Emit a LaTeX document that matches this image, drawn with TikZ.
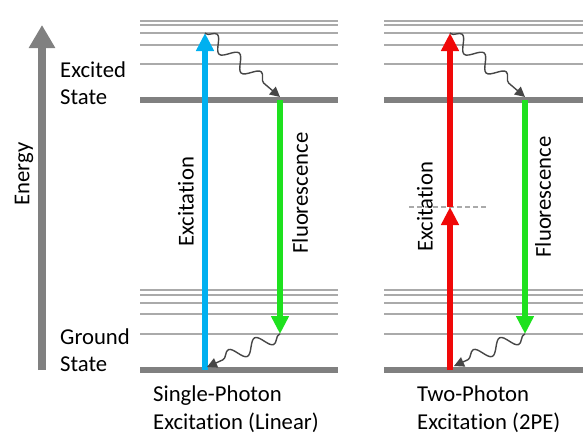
\documentclass[tikz,border=0pt]{standalone}
\usepackage{fontspec}
\setmainfont{Carlito}[Ligatures=NoCommon]
\usetikzlibrary{arrows.meta,calc,decorations.pathmorphing}
\definecolor{exblue}{RGB}{0,176,240}
\definecolor{flgreen}{RGB}{30,225,30}
\definecolor{exred}{RGB}{240,8,8}
\definecolor{lvgray}{RGB}{128,128,128}
\definecolor{thingray}{RGB}{170,170,170}
\definecolor{wavegray}{RGB}{70,70,70}
\begin{document}
\begin{tikzpicture}[x=1pt,y=-1pt,>=Triangle,font=\fontsize{22.7}{27.5}\selectfont]
\tikzstyle{thin}=[thingray,line width=1.6pt]
\tikzstyle{level}=[lvgray,line width=5.5pt]
\tikzstyle{photon}=[line width=6pt,-{Triangle[length=18pt,width=17pt]}]
\tikzstyle{relax}=[wavegray,line width=1.4pt,-{Triangle[length=10pt,width=10pt]},decorate,decoration={snake,amplitude=7pt,segment length=29pt,pre length=1pt,post length=10pt}]
\tikzstyle{lbl}=[inner sep=0pt]
\useasboundingbox (0,0) rectangle (588,447);
% energy axis
\coordinate (ebot) at (42,370);
\coordinate (etop) at (42,25);
\draw[lvgray,line width=8pt,-{Triangle[length=23pt,width=25pt]}] (ebot) -- (etop);
\node[lbl,rotate=90] (energy) at (24,174) {Energy};
\node[lbl,align=left,anchor=west] (exst) at (60,83) {Excited\\State};
\node[lbl,align=left,anchor=west] (gnst) at (60,350) {Ground\\State};
% energy levels, both panels
\foreach \xa/\xb in {140/338,384/583}{
  \foreach \y in {21,25,33,45,64,290,295,303,314,334}
    \draw[thin] (\xa,\y) -- (\xb,\y);
  \draw[level] (\xa,100) -- (\xb,100);
  \draw[level] (\xa,370) -- (\xb,370);
}
% single-photon
\coordinate (sg) at (205,370);
\coordinate (sv) at (205,33);
\coordinate (se) at (280,100);
\coordinate (sf) at (280,334);
\draw[photon,exblue] (sg) -- (sv);
\draw[photon,flgreen] (se) -- (sf);
\draw[relax] (sv) -- ($(se)+(0,-3)$);
\draw[relax] (sf) -- ($(sg)+(2,-3)$);
\node[lbl,rotate=90] (sexc) at (186,202) {Excitation};
\node[lbl,rotate=90] (sfl) at (300,193) {Fluorescence};
\node[lbl,align=left,anchor=west] (sname) at (153,409) {Single-Photon\\Excitation (Linear)};
% two-photon
\coordinate (tg) at (450,370);
\coordinate (tm) at (450,207);
\coordinate (tv) at (450,33);
\coordinate (te) at (525,100);
\coordinate (tf) at (525,334);
\coordinate (dl) at (409,207);
\coordinate (dr) at (487,207);
\draw[thingray,line width=1.4pt,dash pattern=on 5pt off 3pt] (dl) -- (dr);
\draw[photon,exred] (tg) -- (tm);
\draw[photon,exred] (tm) -- (tv);
\draw[photon,flgreen] (te) -- (tf);
\draw[relax] (tv) -- ($(te)+(0,-3)$);
\draw[relax] (tf) -- ($(tg)+(4,-4)$);
\node[lbl,rotate=90] (texc) at (425,207) {Excitation};
\node[lbl,rotate=90] (tfl) at (543,197) {Fluorescence};
\node[lbl,align=left,anchor=west] (tname) at (417,409) {Two-Photon\\Excitation (2PE)};
\end{tikzpicture}
\end{document}
